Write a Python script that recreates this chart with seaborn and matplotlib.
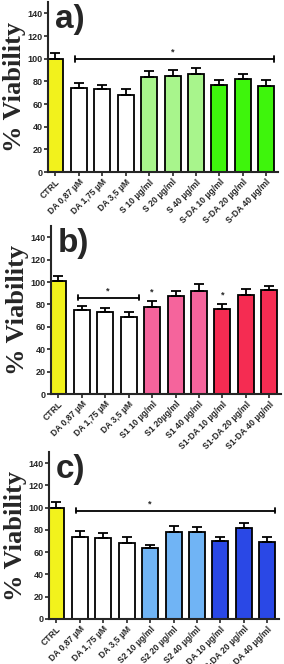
import numpy as np
import pandas as pd
import seaborn as sns
import matplotlib.pyplot as plt

# labels for each panel
labels_a = ["CTRL", "DA 0,87 µM", "DA 1,75 µM", "DA 3,5 µM",
            "S 10 µg/ml", "S 20 µg/ml", "S 40 µg/ml",
            "S-DA 10 µg/ml", "S-DA 20 µg/ml", "S-DA 40 µg/ml"]
labels_b = ["CTRL", "DA 0,87 µM", "DA 1,75 µM", "DA 3,5 µM",
            "S1 10 µg/ml", "S1 20µg/ml", "S1 40 µg/ml",
            "S1-DA 10 µg/ml", "S1-DA 20 µg/ml", "S1-DA 40 µg/ml"]
labels_c = ["CTRL", "DA 0,87 µM", "DA 1,75 µM", "DA 3,5 µM",
            "S2 10 µg/ml", "S2 20 µg/ml", "S2 40 µg/ml",
            "S2-DA 10 µg/ml", "S2-DA 20 µg/ml", "S2-DA 40 µg/ml"]

# mean viability and upper error
mean_a = [100.1, 73.8, 73.2, 68.2, 83.7, 84.9, 86.9, 76.9, 81.9, 75.5]
err_a = [4.7, 4.6, 3.6, 5.2, 5.5, 5.5, 5.3, 4.1, 4.4, 5.8]
mean_b = [100.5, 74.6, 73.6, 68.4, 78.0, 87.9, 92.4, 76.3, 88.5, 93.0]
err_b = [4.7, 4.2, 3.6, 4.9, 5.4, 4.1, 5.6, 4.4, 5.0, 3.5]
mean_c = [100.1, 73.7, 73.1, 68.3, 63.8, 77.9, 77.9, 70.1, 81.8, 69.2]
err_c = [4.9, 5.1, 4.2, 5.1, 3.0, 5.7, 4.8, 3.9, 4.5, 4.2]

yellow = "#f2f21c"
colors_a = [yellow] + ["white"] * 3 + ["#a8f58c"] * 3 + ["#3ef50c"] * 3
colors_b = [yellow] + ["white"] * 3 + ["#f5649c"] * 3 + ["#f52c52"] * 3
colors_c = [yellow] + ["white"] * 3 + ["#70b4f5"] * 3 + ["#2a48e6"] * 3

# significance brackets: (x start, x end, y), star positions (x, y)
brackets_a = [(0.83, 9.34, 99.8)]
stars_a = [(5.0, 101.5)]
brackets_b = [(0.83, 3.44, 86.0)]
stars_b = [(2.1, 87.5), (4.0, 87.0), (7.0, 84.5)]
brackets_c = [(0.83, 9.34, 97.4)]
stars_c = [(4.0, 99.0)]

W, H = 284, 664
fig = plt.figure(figsize=(W / 100, H / 100), dpi=100)
sns.set_style("ticks")
plt.rcParams["font.family"] = ["Liberation Sans", "DejaVu Sans"]

panels = [
    ("a)", labels_a, mean_a, err_a, colors_a, brackets_a, stars_a, (48, 2, 172)),
    ("b)", labels_b, mean_b, err_b, colors_b, brackets_b, stars_b, (51, 226, 394)),
    ("c)", labels_c, mean_c, err_c, colors_c, brackets_c, stars_c, (49, 452, 619)),
]

for letter, labels, means, errs, colors, brackets, stars, (lx, top, bot) in panels:
    ax = fig.add_axes([lx / W, 1 - bot / H, 230 / W, (bot - top) / H])
    df = pd.DataFrame({"group": labels, "viability": means})
    sns.barplot(data=df, x="group", y="viability", hue="group",
                palette=colors, legend=False, errorbar=None, saturation=1,
                width=0.68, edgecolor="black", linewidth=1.3, ax=ax)
    x = np.arange(len(labels))
    ax.errorbar(x, means, yerr=[np.zeros(len(errs)), errs], fmt="none",
                ecolor="black", elinewidth=1.3, capsize=3.5, capthick=1.3,
                zorder=1)
    for x0, x1, y in brackets:
        ax.plot([x0, x1], [y, y], color="black", lw=1.3)
        ax.plot([x0, x0], [y - 2.5, y + 2.5], color="black", lw=1.3)
        ax.plot([x1, x1], [y - 2.5, y + 2.5], color="black", lw=1.3)
    for sx, sy in stars:
        ax.text(sx, sy, "*", ha="center", va="bottom", fontsize=6.5,
                fontweight="bold")
    ax.set_xlim(-0.32, 9.5)
    ax.set_ylim(0, 150)
    ax.set_yticks(range(0, 141, 20))
    ax.set_xlabel("")
    ax.set_ylabel("% Viability", family=["Liberation Serif", "DejaVu Serif"],
                  fontsize=19, fontweight="bold", labelpad=1)
    ax.tick_params(axis="both", labelsize=6.5, width=1.2, length=3, pad=1)
    for t in ax.get_yticklabels():
        t.set_fontweight("bold")
    ax.set_xticks(x)
    ax.set_xticklabels(labels, rotation=45, ha="right",
                       rotation_mode="anchor", fontweight="bold", fontsize=6.2)
    for s in ["left", "bottom"]:
        ax.spines[s].set_linewidth(1.5)
    sns.despine(ax=ax)
    ax.text(0.03, 0.99, letter, transform=ax.transAxes, ha="left", va="top",
            fontsize=24, fontweight="bold")

fig.savefig("out.png", dpi=100)
